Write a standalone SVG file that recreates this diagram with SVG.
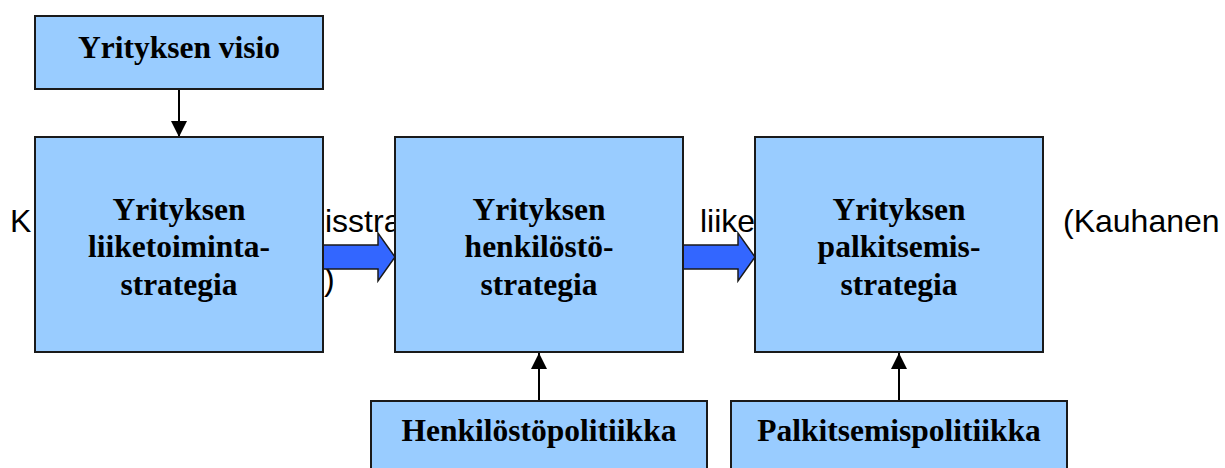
<svg xmlns="http://www.w3.org/2000/svg" width="1225" height="468" viewBox="0 0 1225 468">
<style>
.box{fill:#99CCFF;stroke:#1a1a1a;stroke-width:2}
.lbl{font-family:"Liberation Serif","Times New Roman",serif;font-weight:bold;font-size:31.5px;fill:#000;text-anchor:middle}
.bg{font-family:"Liberation Sans",Arial,sans-serif;font-size:32px;fill:#000}
.line{stroke:#000;stroke-width:2;fill:none}
.barrow{fill:#3366FF;stroke:#1a1a1a;stroke-width:1.5;stroke-linejoin:miter}
</style>
<defs>
<marker id="ah" viewBox="0 0 16 16" refX="16" refY="8" markerWidth="16" markerHeight="16" markerUnits="userSpaceOnUse" orient="auto">
<path d="M0,0 L16,8 L0,16 Z" fill="#000"/>
</marker>
</defs>
<rect width="1225" height="468" fill="#fff"/>
<g id="background-text">
<text class="bg" x="10" y="232">K</text>
<text class="bg" x="325" y="232">isstra</text>
<text class="bg" x="700" y="232">liike</text>
<text class="bg" x="1063" y="232">(Kauhanen</text>
<text class="bg" x="324" y="290">)</text>
</g>
<g id="connectors">
<line class="line" x1="179" y1="89" x2="179" y2="137" marker-end="url(#ah)"/>
<line class="line" x1="539" y1="401" x2="539" y2="353" marker-end="url(#ah)"/>
<line class="line" x1="899" y1="401" x2="899" y2="353" marker-end="url(#ah)"/>
<path class="barrow" d="M323,245 L378,245 L378,233 L395,257 L378,281 L378,269 L323,269 Z"/>
<path class="barrow" d="M683,245 L738,245 L738,233 L755,257 L738,281 L738,269 L683,269 Z"/>
</g>
<g id="node-visio">
<rect class="box" x="35" y="16" width="288" height="73"/>
<text class="lbl" x="179" y="58">Yrityksen visio</text>
</g>
<g id="node-liiketoimintastrategia">
<rect class="box" x="35" y="137" width="288" height="215"/>
<text class="lbl" x="179" y="219.5">Yrityksen</text>
<text class="lbl" x="179" y="257">liiketoiminta-</text>
<text class="lbl" x="179" y="294.5">strategia</text>
</g>
<g id="node-henkilostostrategia">
<rect class="box" x="395" y="137" width="288" height="215"/>
<text class="lbl" x="539" y="219.5">Yrityksen</text>
<text class="lbl" x="539" y="257">henkilöstö-</text>
<text class="lbl" x="539" y="294.5">strategia</text>
</g>
<g id="node-palkitsemisstrategia">
<rect class="box" x="755" y="137" width="288" height="215"/>
<text class="lbl" x="899" y="219.5">Yrityksen</text>
<text class="lbl" x="899" y="257">palkitsemis-</text>
<text class="lbl" x="899" y="294.5">strategia</text>
</g>
<g id="node-henkilostopolitiikka">
<rect class="box" x="371" y="401" width="336" height="80"/>
<text class="lbl" x="539" y="441">Henkilöstöpolitiikka</text>
</g>
<g id="node-palkitsemispolitiikka">
<rect class="box" x="731" y="401" width="336" height="80"/>
<text class="lbl" x="899" y="441">Palkitsemispolitiikka</text>
</g>
</svg>
